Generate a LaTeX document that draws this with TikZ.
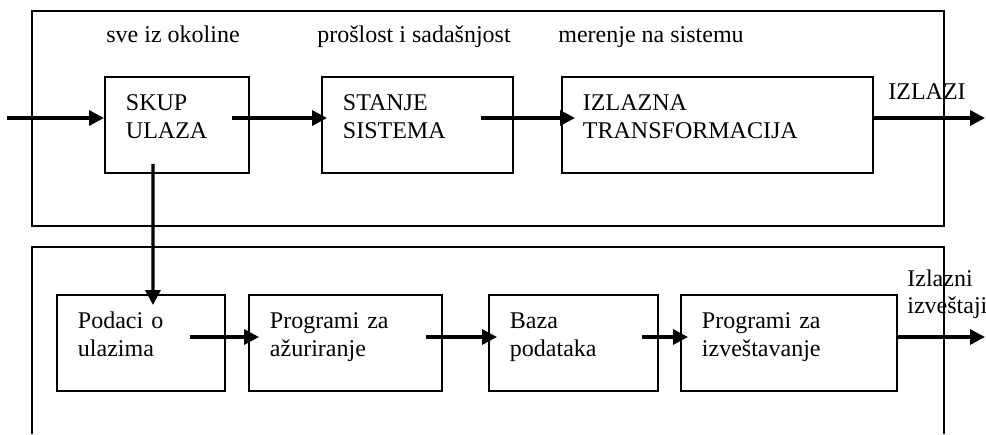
\documentclass[tikz,border=0pt]{standalone}
\usepackage{fontspec}
\setmainfont{Liberation Serif}
\usetikzlibrary{arrows.meta}
\tikzset{
  blok/.style={draw, line width=1.1pt, anchor=north west, align=left,
    inner xsep=0.42cm, inner ysep=0pt, text height=0.68cm, text depth=1.24cm},
  strelica/.style={line width=1.9pt, -{Triangle[length=0.3cm,width=0.3cm]}},
  okvir/.style={line width=1.1pt},
  natpis/.style={anchor=base west, inner sep=0pt}
}
\begin{document}
\begin{tikzpicture}[font=\fontsize{13.66pt}{15.9pt}\selectfont]
  \useasboundingbox (0,0) rectangle (19.72,8.68);

  % Okviri
  \draw[okvir] (0.64,4.16) rectangle (18.88,8.46);
  \draw[okvir] (0.64,0) -- (0.64,3.74) -- (18.88,3.74) -- (18.88,0);

  % Blokovi gore
  \node[blok, text width=2.04cm] (skup) at (2.08,7.16) {SKUP\\ULAZA};
  \node[blok, text width=2.98cm] (stanje) at (6.42,7.16) {STANJE\\SISTEMA};
  \node[blok, text width=5.38cm] (izlazna) at (11.22,7.16) {IZLAZNA\\TRANSFORMACIJA};

  % Blokovi dole
  \node[blok, text width=2.52cm] (podaci) at (1.12,2.8) {Podaci o\\ulazima};
  \node[blok, text width=3.02cm] (azur) at (4.96,2.8) {Programi za\\ažuriranje};
  \node[blok, text width=2.54cm] (baza) at (9.76,2.8) {Baza\\podataka};
  \node[blok, text width=3.48cm] (izv) at (13.6,2.8) {Programi za\\izveštavanje};

  % Natpisi
  \node[natpis] (okolina) at (2.12,7.84) {sve iz okoline};
  \node[natpis] (proslost) at (6.34,7.84) {prošlost i sadašnjost};
  \node[natpis] (merenje) at (11.16,7.84) {merenje na sistemu};
  \node[natpis] (izlazi) at (17.76,6.70) {IZLAZI};
  \node[natpis, text width=2cm] (izvestaji) at (18.14,2.96) {Izlazni\\izveštaji};

  % Strelice gore
  \coordinate (ulaz) at (0.14,6.32);
  \coordinate (izlaz) at (19.70,6.32);
  \draw[strelica] (ulaz) -- (ulaz -| skup.west);
  \draw[strelica] ([xshift=-0.36cm]skup.east |- ulaz) -- ([xshift=0.12cm]stanje.west |- ulaz);
  \draw[strelica] ([xshift=-0.66cm]stanje.east |- ulaz) -- ([xshift=0.28cm]izlazna.west |- ulaz);
  \draw[strelica] (izlazna.east |- ulaz) -- (izlaz);

  % Veza gore - dole
  \draw[strelica] ([shift={(-0.48,0.2)}]skup.south) -- ([shift={(0.24,-0.22)}]podaci.north);

  % Strelice dole
  \coordinate (red) at (0,1.94);
  \coordinate (kraj) at (19.70,1.94);
  \draw[strelica] ([xshift=-0.72cm]podaci.east |- red) -- ([xshift=0.22cm]azur.west |- red);
  \draw[strelica] ([xshift=-0.34cm]azur.east |- red) -- ([xshift=0.18cm]baza.west |- red);
  \draw[strelica] ([xshift=-0.34cm]baza.east |- red) -- ([xshift=0.16cm]izv.west |- red);
  \draw[strelica] (izv.east |- red) -- (kraj);
\end{tikzpicture}
\end{document}
